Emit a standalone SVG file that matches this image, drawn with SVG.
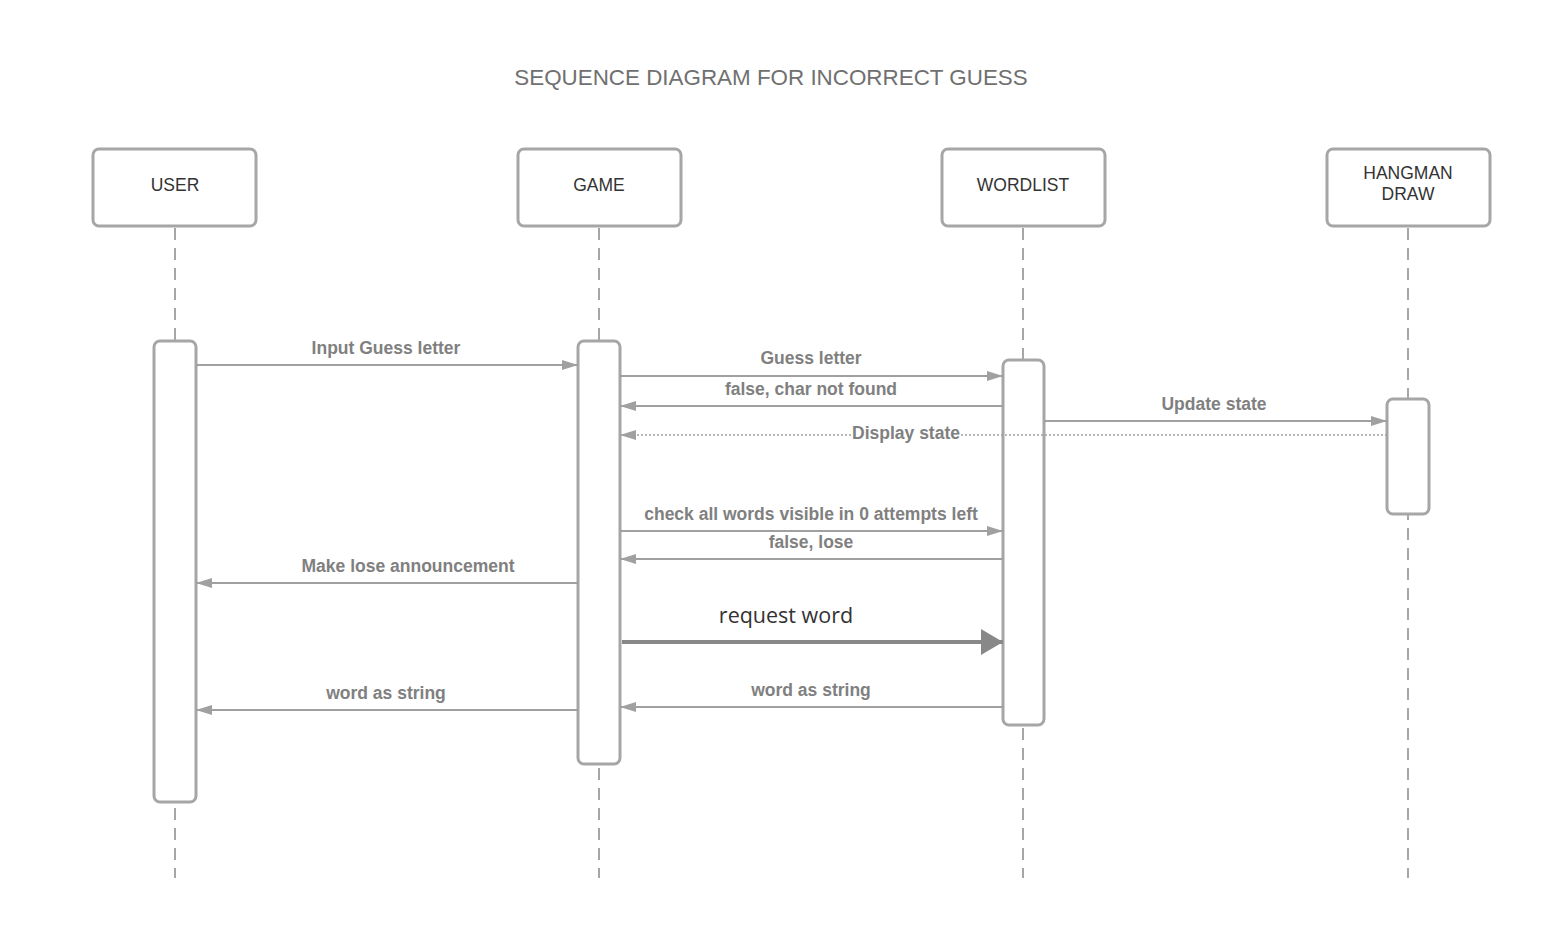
<svg xmlns="http://www.w3.org/2000/svg" width="1560" height="941" viewBox="0 0 1560 941">
<style>
.hdr{fill:#fff;stroke:#a6a6a6;stroke-width:3}
.act{fill:#fff;stroke:#a6a6a6;stroke-width:3}
.life{stroke:#a6a6a6;stroke-width:2;stroke-dasharray:12,8;fill:none}
.ht{font-family:"Liberation Sans",Arial,sans-serif;font-size:17.5px;fill:#333;text-anchor:middle}
.msg{stroke:#a0a0a0;stroke-width:2;fill:none}
.dot{stroke:#a0a0a0;stroke-width:1.5;stroke-dasharray:2,2;fill:none}
.lbl{font-family:"Liberation Sans",Arial,sans-serif;font-size:17.5px;font-weight:bold;fill:#808080;text-anchor:middle}
</style>
<defs>
<marker id="ah" markerWidth="16" markerHeight="10" refX="16" refY="5" orient="auto" markerUnits="userSpaceOnUse"><path d="M0,0 L16,5 L0,10 z" fill="#a0a0a0"/></marker>
<marker id="ahb" markerWidth="22" markerHeight="26" refX="22" refY="13" orient="auto" markerUnits="userSpaceOnUse"><path d="M0,0 L22,13 L0,26 z" fill="#888"/></marker>
</defs>
<rect width="1560" height="941" fill="#fff"/>
<text x="771" y="85" font-family="Liberation Sans,Arial,sans-serif" font-size="22.4" fill="#707070" text-anchor="middle">SEQUENCE DIAGRAM FOR INCORRECT GUESS</text>
<g id="lifelines">
<line class="life" x1="175" y1="228" x2="175" y2="878"/>
<line class="life" x1="599" y1="228" x2="599" y2="878"/>
<line class="life" x1="1023" y1="228" x2="1023" y2="878"/>
<line class="life" x1="1408" y1="228" x2="1408" y2="878"/>
</g>
<g id="user">
<rect class="hdr" x="93" y="149" width="163" height="77" rx="6"/>
<text class="ht" x="175" y="191">USER</text>
<rect class="act" x="154" y="341" width="42" height="461" rx="6"/>
</g>
<g id="game">
<rect class="hdr" x="518" y="149" width="163" height="77" rx="6"/>
<text class="ht" x="599" y="191">GAME</text>
<rect class="act" x="578" y="341" width="42" height="423" rx="6"/>
</g>
<g id="wordlist">
<rect class="hdr" x="942" y="149" width="163" height="77" rx="6"/>
<text class="ht" x="1023" y="191">WORDLIST</text>
<rect class="act" x="1003" y="360" width="41" height="365" rx="6"/>
</g>
<g id="hangman">
<rect class="hdr" x="1327" y="149" width="163" height="77" rx="6"/>
<text class="ht" x="1408" y="179">HANGMAN</text>
<text class="ht" x="1408" y="200">DRAW</text>
<rect class="act" x="1387" y="399" width="42" height="115" rx="6"/>
</g>
<g id="connectors">
<line class="msg" x1="196" y1="365" x2="578" y2="365" marker-end="url(#ah)"/>
<text class="lbl" x="386" y="354">Input Guess letter</text>
<line class="msg" x1="620" y1="376" x2="1003" y2="376" marker-end="url(#ah)"/>
<text class="lbl" x="811" y="364">Guess letter</text>
<line class="msg" x1="1003" y1="406" x2="620" y2="406" marker-end="url(#ah)"/>
<text class="lbl" x="811" y="395">false, char not found</text>
<line class="msg" x1="1044" y1="421" x2="1387" y2="421" marker-end="url(#ah)"/>
<text class="lbl" x="1214" y="410">Update state</text>
<line class="dot" x1="1387" y1="435" x2="620" y2="435" marker-end="url(#ah)"/>
<rect x="852" y="426" width="108" height="18" fill="#fff"/>
<text class="lbl" x="906" y="439">Display state</text>
<line class="msg" x1="620" y1="531" x2="1003" y2="531" marker-end="url(#ah)"/>
<text class="lbl" x="811" y="520">check all words visible in 0 attempts left</text>
<line class="msg" x1="1003" y1="559" x2="620" y2="559" marker-end="url(#ah)"/>
<text class="lbl" x="811" y="548">false, lose</text>
<line class="msg" x1="578" y1="583" x2="196" y2="583" marker-end="url(#ah)"/>
<text class="lbl" x="408" y="572">Make lose announcement</text>
<line x1="622" y1="642" x2="1003" y2="642" stroke="#888" stroke-width="4" marker-end="url(#ahb)"/>
<text x="786" y="623" font-family="Open Sans,Noto Sans,sans-serif" font-size="21.5" fill="#333" text-anchor="middle">request word</text>
<line class="msg" x1="1003" y1="707" x2="620" y2="707" marker-end="url(#ah)"/>
<text class="lbl" x="811" y="696">word as string</text>
<line class="msg" x1="578" y1="710" x2="196" y2="710" marker-end="url(#ah)"/>
<text class="lbl" x="386" y="699">word as string</text>
</g>
</svg>
